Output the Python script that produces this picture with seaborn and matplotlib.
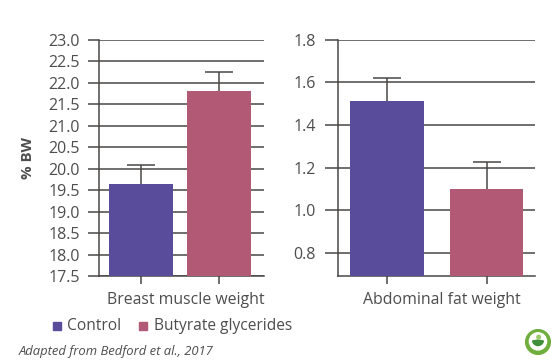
import matplotlib
matplotlib.use("Agg")
import matplotlib.pyplot as plt
from matplotlib.patches import Circle, Wedge, Rectangle
import pandas as pd
import seaborn as sns

sns.set_theme(style="white")
plt.rcParams['font.family'] = ['Open Sans', 'DejaVu Sans']

groups = ["Control", "Butyrate glycerides"]
colors = ["#594c9a", "#b25a75"]
breast_means = [19.65, 21.82]
breast_errs = [0.44, 0.44]
fat_means = [1.51, 1.10]
fat_errs = [0.11, 0.125]
breast_ticks = [17.5, 18.0, 18.5, 19.0, 19.5, 20.0, 20.5, 21.0, 21.5, 22.0, 22.5, 23.0]
fat_ticks = [0.8, 1.0, 1.2, 1.4, 1.6, 1.8]

W, H = 559, 363
GREY = "#4a4646"
TXT = "#4d4d4d"
fig = plt.figure(figsize=(W / 100, H / 100), dpi=100, facecolor="white")


def make_ax(x0, x1, ytop, ybot):
    return fig.add_axes([x0 / W, 1 - ybot / H, (x1 - x0) / W, (ybot - ytop) / H])


def panel(ax, means, errs, ylim, ticks, xlim, width, ticklen, pad, capsize):
    df = pd.DataFrame({"group": groups, "value": means})
    sns.barplot(data=df, x="group", y="value", hue="group", palette=colors,
                order=groups, hue_order=groups, legend=False, width=width,
                saturation=1, linewidth=0, ax=ax, zorder=3)
    _, caps, _ = ax.errorbar(range(2), means, yerr=[[0, 0], errs], fmt="none",
                             ecolor=GREY, elinewidth=1.1, capsize=capsize,
                             capthick=1.1, zorder=4)
    caps[0].set_visible(False)
    ax.set_xlim(*xlim)
    ax.set_ylim(*ylim)
    ax.set_yticks(ticks)
    ax.set_yticklabels([f"{t:.1f}" for t in ticks])
    ax.set_xticks([0, 1])
    ax.set_xticklabels(["", ""])
    ax.set_xlabel("")
    ax.set_ylabel("")
    ax.yaxis.grid(True, color=GREY, lw=1.1, zorder=1)
    ax.set_axisbelow(True)
    for s in ["top", "right"]:
        ax.spines[s].set_visible(False)
    for s in ["left", "bottom"]:
        ax.spines[s].set_color(GREY)
        ax.spines[s].set_linewidth(1.1)
    ax.tick_params(axis="y", length=ticklen, width=1.1, color=GREY, labelcolor=TXT,
                   labelsize=11.5, pad=pad, left=True)
    ax.tick_params(axis="x", length=6, width=1.1, color=GREY, bottom=True, direction="out")


axl = make_ax(98.5, 264, 40, 276)
panel(axl, breast_means, breast_errs, (17.5, 23.0), breast_ticks,
      (-0.545, 1.577), 0.82, 7.6, 5.6, 10)
axr = make_ax(338, 535, 39.5, 276)
panel(axr, fat_means, fat_errs, (0.692, 1.8), fat_ticks,
      (-0.492, 1.487), 0.74, 9.4, 6.4, 10)


def px(x, y, s, **kw):
    fig.text(x / W, 1 - y / H, s, **kw)


px(186, 304.5, "Breast muscle weight", ha="center", va="baseline", fontsize=11.4, color=TXT)
px(441.5, 304.5, "Abdominal fat weight", ha="center", va="baseline", fontsize=11.4, color=TXT)
px(27.5, 158, "% BW", rotation=90, ha="center", va="center", fontsize=10.8,
   fontweight="bold", color=TXT)
px(67, 330, groups[0], va="baseline", fontsize=11.2, color=TXT)
px(154, 330, groups[1], va="baseline", fontsize=11.2, color=TXT)
for x, c in zip([53, 139], colors):
    fig.add_artist(Rectangle((x / W, 1 - 330 / H), 8 / W, 8 / H, color=c,
                             transform=fig.transFigure))
px(19, 355, "Adapted from Bedford et al., 2017", va="baseline", fontsize=9.4,
   style="italic", color=TXT)

logo = fig.add_axes([525 / W, 1 - 355 / H, 26 / W, 26 / H])
logo.set_xlim(-1, 1)
logo.set_ylim(-1, 1)
logo.axis("off")
logo.add_patch(Circle((0, 0), 0.95, color="#6fae3c"))
logo.add_patch(Circle((0, 0.05), 0.66, color="white"))
logo.add_patch(Wedge((0, 0.15), 0.42, 190, 350, color="#3f8f3a"))
logo.add_patch(Circle((0.05, 0.38), 0.14, color="#9ccb6b"))

fig.savefig("out.png", dpi=100)
